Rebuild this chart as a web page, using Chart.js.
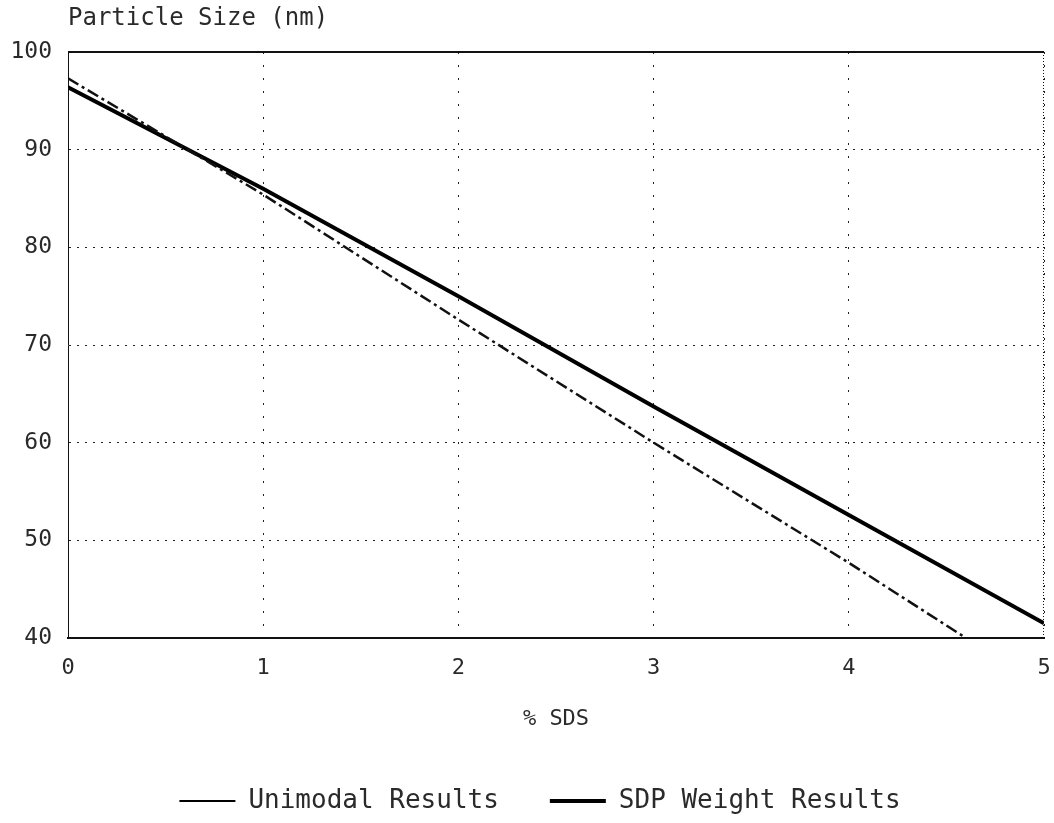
<!DOCTYPE html>
<html>
<head>
<meta charset="utf-8">
<script src="https://cdn.jsdelivr.net/npm/chart.js@4/dist/chart.umd.min.js"></script>
<style>
  html, body { margin: 0; padding: 0; background: #ffffff; }
  #wrap { width: 1054px; height: 823px; }
</style>
</head>
<body>
<div id="wrap"><canvas id="c" width="1054" height="823"></canvas></div>
<script>
// ---- data ----
const yAxisTitle = 'Particle Size (nm)';
const xAxisTitle = '% SDS';
const seriesNames = ['Unimodal Results', 'SDP Weight Results'];
const xTickValues = [0, 1, 2, 3, 4, 5];
const yTickValues = [40, 50, 60, 70, 80, 90, 100];
const unimodalX = [0, 1, 2, 3, 4, 4.6];
const unimodalY = [97.3, 85.4, 72.6, 60.0, 47.7, 40.0];
const sdpX = [0, 1, 2, 3, 4, 5];
const sdpY = [96.4, 86.0, 75.0, 63.7, 52.6, 41.5];

const toPoints = (xs, ys) => xs.map((x, i) => ({ x: x, y: ys[i] }));
const MONO = '"DejaVu Sans Mono", "Liberation Mono", monospace';
const INK = '#2a2a2a';

const framePlugin = {
  id: 'frame',
  afterLayout(chart) {
    const lg = chart.legend;
    if (lg && !lg._shifted) {
      const dx = 18, dy = 1;
      lg.left += dx; lg.right += dx;
      lg.top += dy; lg.bottom += dy;
      lg._shifted = true;
    }
  },
  beforeUpdate(chart) { if (chart.legend) chart.legend._shifted = false; },
  afterDraw(chart) {
    const { ctx, chartArea: a } = chart;
    ctx.save();
    ctx.strokeStyle = '#111';
    // solid top frame line
    ctx.lineWidth = 2;
    ctx.beginPath();
    ctx.moveTo(a.left, a.top);
    ctx.lineTo(a.right, a.top);
    ctx.stroke();
    // dotted left / right frame lines
    ctx.lineWidth = 1;
    ctx.setLineDash([1, 2]);
    ctx.beginPath();
    ctx.moveTo(a.left + 0.5, a.top);
    ctx.lineTo(a.left + 0.5, a.bottom);
    ctx.moveTo(a.right - 0.5, a.top);
    ctx.lineTo(a.right - 0.5, a.bottom);
    ctx.stroke();
    ctx.setLineDash([]);
    // axis title above the y axis
    ctx.fillStyle = INK;
    ctx.font = '24px ' + MONO;
    ctx.textBaseline = 'middle';
    ctx.textAlign = 'left';
    ctx.fillText(yAxisTitle, a.left, 19);
    ctx.restore();
  }
};

new Chart(document.getElementById('c'), {
  type: 'line',
  data: {
    datasets: [
      {
        label: seriesNames[0],
        data: toPoints(unimodalX, unimodalY),
        borderColor: '#111',
        backgroundColor: '#111',
        borderWidth: 2.5,
        borderDash: [12, 4, 3, 4],
        pointRadius: 0,
        tension: 0,
        fill: false
      },
      {
        label: seriesNames[1],
        data: toPoints(sdpX, sdpY),
        borderColor: '#000',
        backgroundColor: '#000',
        borderWidth: 4,
        pointRadius: 0,
        tension: 0,
        fill: false
      }
    ]
  },
  options: {
    responsive: false,
    animation: false,
    devicePixelRatio: 1,
    layout: { padding: { top: 52, left: 0, right: 10, bottom: 0 } },
    plugins: {
      title: { display: false },
      tooltip: { enabled: false },
      legend: {
        display: true,
        position: 'bottom',
        labels: {
          color: INK,
          font: { family: MONO, size: 26 },
          padding: 51,
          usePointStyle: true,
          pointStyleWidth: 56,
          boxHeight: 4,
          generateLabels(chart) {
            return chart.data.datasets.map((ds, i) => ({
              text: ds.label,
              datasetIndex: i,
              pointStyle: 'line',
              strokeStyle: '#000',
              fillStyle: '#000',
              lineWidth: i === 0 ? 2 : 4,
              lineDash: [],
              hidden: false,
              fontColor: INK
            }));
          }
        }
      }
    },
    scales: {
      x: {
        type: 'linear',
        min: 0,
        max: 5,
        afterBuildTicks(scale) { scale.ticks = xTickValues.map(v => ({ value: v })); },
        afterFit(scale) { scale.height = 98; },
        ticks: {
          color: INK,
          font: { family: MONO, size: 22 },
          padding: 2,
          maxRotation: 0
        },
        title: {
          display: true,
          text: xAxisTitle,
          color: INK,
          font: { family: MONO, size: 22 },
          padding: { top: 0, bottom: 4 }
        },
        grid: { color: '#222', lineWidth: 1, drawTicks: true, tickLength: 15, tickColor: 'rgba(0,0,0,0)' },
        border: { display: true, color: '#111', width: 2, dash: [2, 11] }
      },
      y: {
        type: 'linear',
        min: 40,
        max: 100,
        afterBuildTicks(scale) { scale.ticks = yTickValues.map(v => ({ value: v })); },
        afterFit(scale) { scale.width = 68; },
        ticks: {
          color: INK,
          font: { family: MONO, size: 23 },
          padding: 16
        },
        grid: { color: '#222', lineWidth: 1, drawTicks: false },
        border: { display: true, color: '#111', width: 1, dash: [2, 6] }
      }
    }
  },
  plugins: [framePlugin]
});
</script>
</body>
</html>
